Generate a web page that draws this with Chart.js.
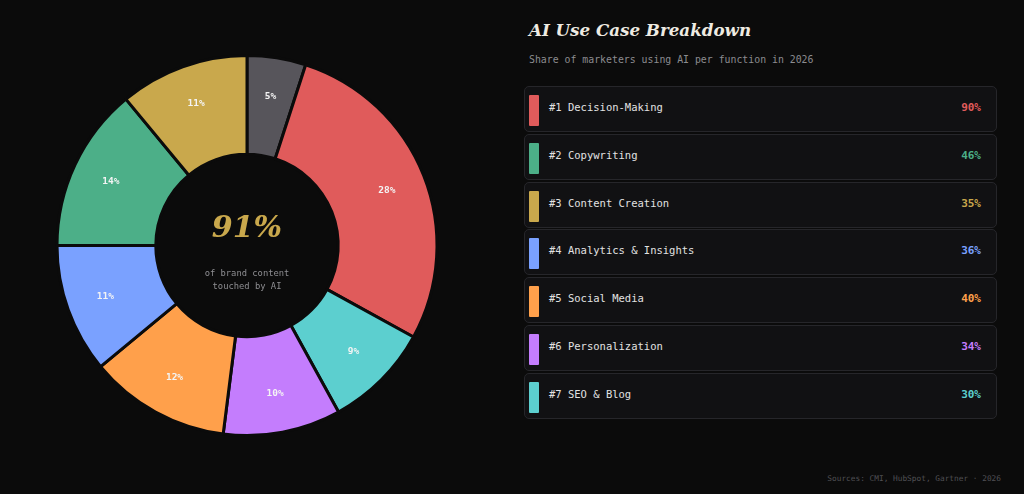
<!DOCTYPE html>
<html>
<head>
<meta charset="utf-8">
<script src="https://cdn.jsdelivr.net/npm/chart.js@4.4.1/dist/chart.umd.min.js"></script>
<style>
  html, body { margin: 0; padding: 0; background: #0b0b0b; width: 1024px; height: 494px; overflow: hidden; }
  #wrap { position: absolute; left: 0; top: 0; width: 494px; height: 494px; }
  #side { position: absolute; left: 524px; top: 0; width: 473px; }
  h1 { position: absolute; left: 5px; top: 20px; margin: 0; font: italic bold 16.7px "DejaVu Serif", serif; color: #efebe2; white-space: nowrap; }
  .sub { position: absolute; left: 5px; top: 54px; font: 9.85px "DejaVu Sans Mono", monospace; color: #8c8c90; white-space: nowrap; }
  #list { position: absolute; left: 0; top: 86px; width: 473px; }
  .row { position: relative; box-sizing: border-box; height: 46px; margin-bottom: 1.8px; border: 1px solid #26262a; border-radius: 5px; background: #111113; }
  .bar { position: absolute; left: 4px; top: 8px; width: 10px; height: 31px; border-radius: 1px; }
  .name { position: absolute; left: 24px; top: 14px; font: 10.5px "DejaVu Sans Mono", monospace; color: #e2e2e2; white-space: nowrap; }
  .pct { position: absolute; right: 15px; top: 14px; font: bold 11px "DejaVu Sans Mono", monospace; }
  .foot { position: absolute; right: 23px; top: 474px; font: 7.8px "DejaVu Sans Mono", monospace; color: #505054; }
</style>
</head>
<body>
<div id="wrap"><canvas id="donut"></canvas></div>
<div id="side">
  <h1>AI Use Case Breakdown</h1>
  <div class="sub">Share of marketers using AI per function in 2026</div>
  <div id="list"></div>
</div>
<div class="foot">Sources: CMI, HubSpot, Gartner · 2026</div>
<script>
// doughnut: share of brand content, clockwise from top
const segLabels = ['Other', 'Decision-Making', 'SEO & Blog', 'Personalization', 'Social Media', 'Analytics & Insights', 'Copywriting', 'Content Creation'];
const segValues = [5, 28, 9, 10, 12, 11, 14, 11];
const segColors = ['#57555b', '#e05b5b', '#5ccfcf', '#c47dfd', '#ffa04b', '#7aa1ff', '#4caf88', '#c9a84c'];

// ranked list
const useCases = ['Decision-Making', 'Copywriting', 'Content Creation', 'Analytics & Insights', 'Social Media', 'Personalization', 'SEO & Blog'];
const usePct = [90, 46, 35, 36, 40, 34, 30];
const useColors = ['#e05b5b', '#4caf88', '#c9a84c', '#7aa1ff', '#ffa04b', '#c47dfd', '#5ccfcf'];

const centerValue = '91%';
const centerText = ['of brand content', 'touched by AI'];

const list = document.getElementById('list');
useCases.forEach((name, i) => {
  const row = document.createElement('div');
  row.className = 'row';
  row.innerHTML = '<div class="bar" style="background:' + useColors[i] + '"></div>' +
    '<div class="name">#' + (i + 1) + ' ' + name + '</div>' +
    '<div class="pct" style="color:' + useColors[i] + '">' + usePct[i] + '%</div>';
  list.appendChild(row);
});

const donutText = {
  id: 'donutText',
  afterDatasetsDraw(chart) {
    const ctx = chart.ctx;
    const meta = chart.getDatasetMeta(0);
    ctx.save();
    ctx.textAlign = 'center';
    ctx.textBaseline = 'middle';
    ctx.font = 'bold 9.5px "DejaVu Sans Mono", monospace';
    ctx.fillStyle = '#f4f4f4';
    meta.data.forEach((arc, i) => {
      const p = arc.getProps(['x', 'y', 'startAngle', 'endAngle', 'innerRadius', 'outerRadius']);
      const a = (p.startAngle + p.endAngle) / 2;
      const r = p.innerRadius + 0.6 * (p.outerRadius - p.innerRadius);
      ctx.fillText(segValues[i] + '%', p.x + Math.cos(a) * r, p.y + Math.sin(a) * r);
    });
    const cx = meta.data[0].x, cy = meta.data[0].y;
    ctx.font = 'italic bold 30px "DejaVu Serif", serif';
    ctx.fillStyle = '#c9a84c';
    ctx.fillText(centerValue, cx, cy - 16);
    ctx.font = '8.8px "DejaVu Sans Mono", monospace';
    ctx.fillStyle = '#8e8e92';
    ctx.fillText(centerText[0], cx, cy + 28.5);
    ctx.fillText(centerText[1], cx, cy + 41.5);
    ctx.restore();
  }
};

new Chart(document.getElementById('donut'), {
  type: 'doughnut',
  data: {
    labels: segLabels,
    datasets: [{
      data: segValues,
      backgroundColor: segColors,
      borderColor: '#0b0b0b',
      borderWidth: 3
    }]
  },
  options: {
    responsive: true,
    maintainAspectRatio: false,
    animation: false,
    cutout: '48%',
    layout: { padding: { left: 55, right: 55, top: 54, bottom: 57 } },
    plugins: {
      legend: { display: false },
      tooltip: { enabled: false }
    }
  },
  plugins: [donutText]
});
</script>
</body>
</html>
